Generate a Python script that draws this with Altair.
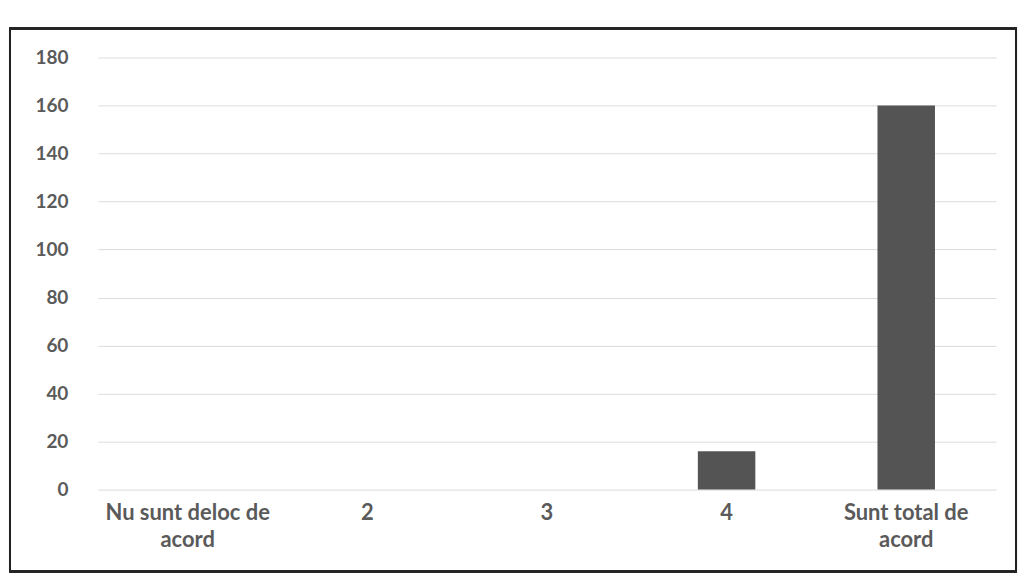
import altair as alt
import pandas as pd

categories = ["Nu sunt deloc de acord", "2", "3", "4", "Sunt total de acord"]
values = [0, 0, 0, 16, 160]
y_ticks = [0, 20, 40, 60, 80, 100, 120, 140, 160, 180]

df = pd.DataFrame({"cat": categories, "val": values})

label_expr = ("datum.label == 'Nu sunt deloc de acord' ? ['Nu sunt deloc de', 'acord'] : "
              "datum.label == 'Sunt total de acord' ? ['Sunt total de', 'acord'] : datum.label")

bars = alt.Chart(df).mark_bar(color="#545454").encode(
    x=alt.X("cat:N", sort=categories, title=None,
            scale=alt.Scale(paddingInner=0.68, paddingOuter=0.34),
            axis=alt.Axis(labelAngle=0, labelExpr=label_expr, labelFont="Lato",
                          labelFontWeight="bold", labelFontSize=22, labelColor="#5a5a5a",
                          labelPadding=13, labelLineHeight=27, ticks=False, domain=False,
                          grid=False)),
    y=alt.Y("val:Q", title=None,
            scale=alt.Scale(domain=[0, 180], nice=False),
            axis=alt.Axis(values=y_ticks, labelFont="Lato", labelFontWeight="bold",
                          labelFontSize=19, labelColor="#5a5a5a", labelPadding=30,
                          ticks=False, domain=False, grid=True, gridColor="#dcdcdc",
                          gridWidth=1)),
)

frame = alt.Chart(df).mark_rect(fill=None, stroke="#222222", strokeWidth=2).encode(
    x=alt.value(-88), x2=alt.value(920), y=alt.value(-29), y2=alt.value(515)
)

chart = alt.layer(bars, frame).properties(
    width=900, height=433,
    autosize=alt.AutoSizeParams(type="none"),
    padding={"left": 90, "top": 49, "right": 25, "bottom": 85},
).configure(background="white").configure_view(stroke=None, strokeWidth=0)

chart.save("out.html", embed_options={"renderer": "svg", "actions": False})
